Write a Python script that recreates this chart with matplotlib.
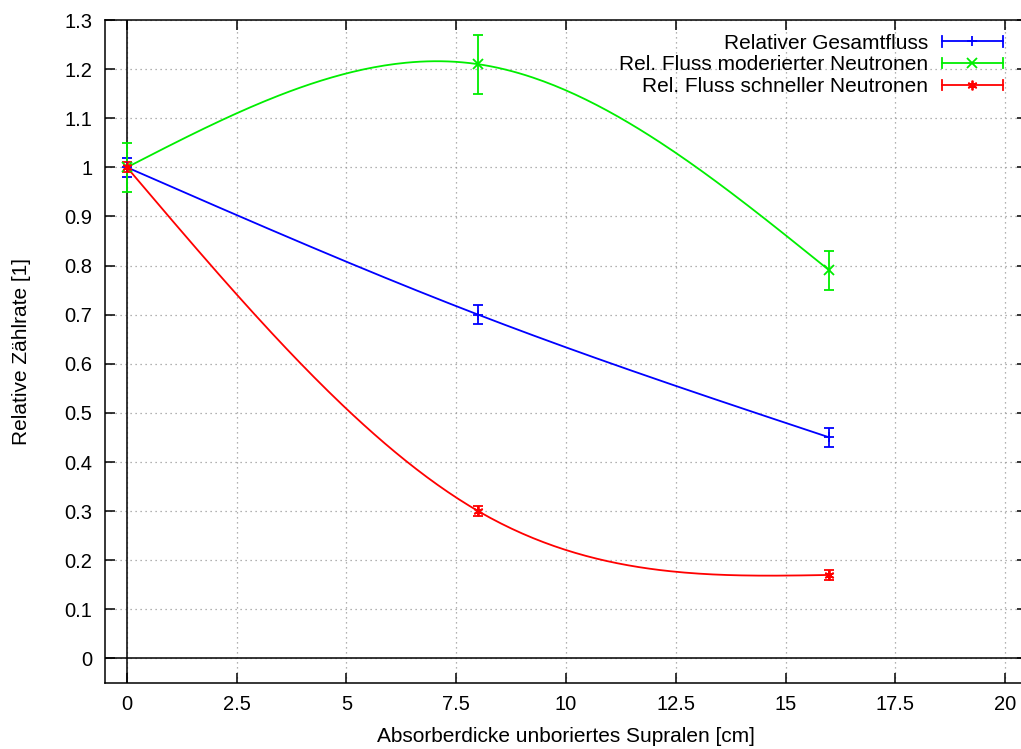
import matplotlib.pyplot as plt
import numpy as np
from matplotlib.legend_handler import HandlerBase
from matplotlib.lines import Line2D

x = [0, 8, 16]
total = [1.0, 0.70, 0.45]
total_err = [0.02, 0.02, 0.02]
moderated = [1.0, 1.21, 0.79]
moderated_err = [0.05, 0.06, 0.04]
fast = [1.0, 0.30, 0.17]
fast_err = [0.01, 0.01, 0.01]

labels = ["Relativer Gesamtfluss",
          "Rel. Fluss moderierter Neutronen",
          "Rel. Fluss schneller Neutronen"]
colors = ["#0000ff", "#00ee00", "#ff0000"]
markers = ['+', 'x', (6, 2, 0)]


def natural_spline(xs, ys, n=200):
    # natural cubic spline, like gnuplot "smooth csplines"
    xs = np.asarray(xs, float)
    ys = np.asarray(ys, float)
    h = np.diff(xs)
    m = len(xs)
    A = np.zeros((m, m))
    b = np.zeros(m)
    A[0, 0] = A[-1, -1] = 1
    for i in range(1, m - 1):
        A[i, i - 1] = h[i - 1]
        A[i, i] = 2 * (h[i - 1] + h[i])
        A[i, i + 1] = h[i]
        b[i] = 6 * ((ys[i + 1] - ys[i]) / h[i] - (ys[i] - ys[i - 1]) / h[i - 1])
    M = np.linalg.solve(A, b)
    xx = np.linspace(xs[0], xs[-1], n)
    yy = np.empty_like(xx)
    for k, t in enumerate(xx):
        i = min(np.searchsorted(xs, t, side="right") - 1, m - 2)
        a, c = xs[i + 1] - t, t - xs[i]
        yy[k] = (M[i] * a**3 + M[i + 1] * c**3) / (6 * h[i]) \
            + (ys[i] / h[i] - M[i] * h[i] / 6) * a \
            + (ys[i + 1] / h[i] - M[i + 1] * h[i] / 6) * c
    return xx, yy


class ErrLineHandler(HandlerBase):
    # gnuplot-like key sample: line with end ticks and marker in the middle
    def create_artists(self, legend, orig, xd, yd, width, height, fontsize, trans):
        col, mk = orig.get_color(), orig.get_marker()
        y0 = height / 2 - yd
        t = 0.36 * height
        arts = [Line2D([-xd, -xd + width], [y0, y0], color=col, lw=1.3),
                Line2D([-xd, -xd], [y0 - t, y0 + t], color=col, lw=1.3),
                Line2D([-xd + width, -xd + width], [y0 - t, y0 + t], color=col, lw=1.3),
                Line2D([-xd + width / 2], [y0], color=col, marker=mk, ms=7, mew=1.3, ls='none')]
        for a in arts:
            a.set_transform(trans)
        return arts


plt.rcParams['font.family'] = ['Liberation Sans', 'DejaVu Sans']
fig = plt.figure(figsize=(10.21, 7.49), dpi=100)
ax = fig.add_axes([105 / 1021, 1 - 683 / 749, 922 / 1021, 663 / 749])

series = [(total, total_err), (moderated, moderated_err), (fast, fast_err)]
handles = []
for (ys, err), col, mk, lab in zip(series, colors, markers, labels):
    xx, yy = natural_spline(x, ys)
    ax.plot(xx, yy, color=col, lw=1.3, zorder=3)
    ax.errorbar(x, ys, yerr=err, fmt='none', ecolor=col, elinewidth=1.3,
                capsize=3.8, capthick=1.3, zorder=4)
    h, = ax.plot(x, ys, ls='none', marker=mk, color=col, ms=7, mew=1.3,
                 zorder=5, label=lab)
    handles.append(h)

ax.axhline(0, color='black', lw=1.1, zorder=2)
ax.axvline(0, color='black', lw=1.1, zorder=2)

ax.set_xlim(-0.5, 20.5)
ax.set_ylim(-0.05, 1.3)
ax.set_xticks(np.arange(0, 20.1, 2.5))
ax.set_xticklabels(['0', '2.5', '5', '7.5', '10', '12.5', '15', '17.5', '20'])
ax.set_yticks(np.arange(0, 1.31, 0.1))
ax.set_yticklabels(['0', '0.1', '0.2', '0.3', '0.4', '0.5', '0.6', '0.7', '0.8',
                    '0.9', '1', '1.1', '1.2', '1.3'])
ax.tick_params(direction='in', length=7, width=1.1, top=True, right=True,
               labelsize=14.5)
ax.tick_params(axis='x', pad=9)
ax.tick_params(axis='y', pad=9)
ax.grid(True, color='#999999', ls=(0, (1, 3)), lw=0.9)
for s in ax.spines.values():
    s.set_linewidth(1.1)

ax.set_xlabel('Absorberdicke unboriertes Supralen [cm]', fontsize=15, labelpad=9)
ax.set_ylabel('Relative Zählrate [1]', fontsize=15, labelpad=24)

leg = ax.legend(handles=handles, loc='upper right', bbox_to_anchor=(0.985, 0.995),
                frameon=False, fontsize=15, markerfirst=False, handlelength=2.93,
                handletextpad=0.67, labelspacing=0.13, borderpad=0,
                handler_map={Line2D: ErrLineHandler()})
for t in leg.get_texts():
    t.set_ha('right')

fig.savefig('out.png', dpi=100)
